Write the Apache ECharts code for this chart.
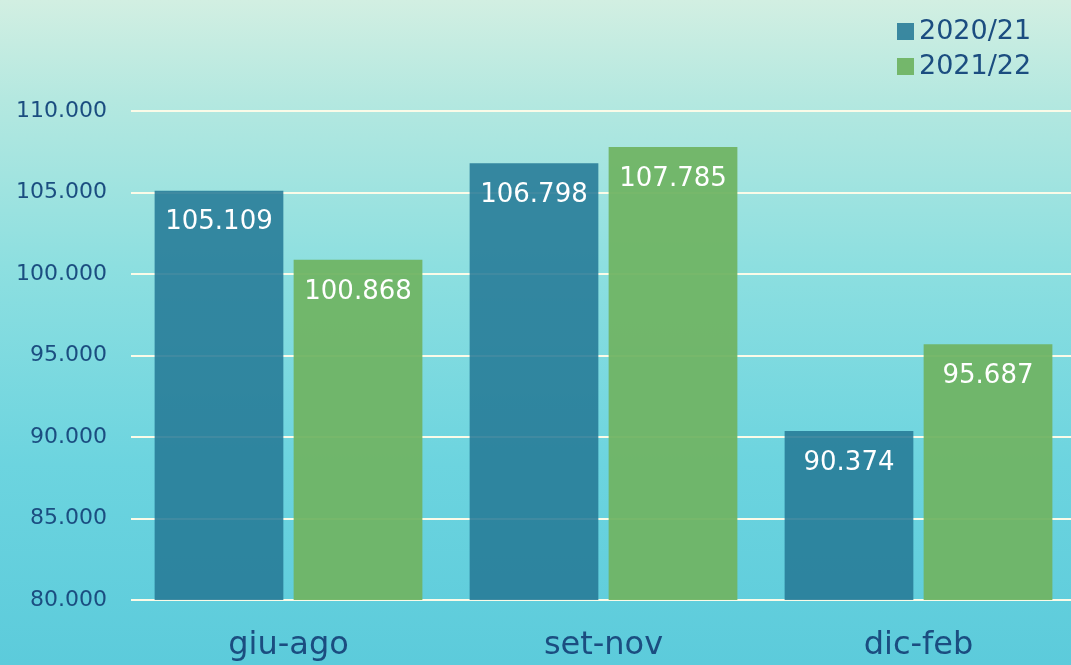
<!DOCTYPE html>
<html>
<head>
<meta charset="utf-8">
<script src="https://cdn.jsdelivr.net/npm/echarts@6/dist/echarts.min.js"></script>
<style>
  html, body { margin: 0; padding: 0; overflow: hidden; }
  #chart {
    width: 1076px; height: 665px;
    background: linear-gradient(180deg, #d2efe2 0%, #b4e8e0 15%, #8ddfe0 40%, #6cd4df 70%, #5ccbdb 100%);
  }
</style>
</head>
<body>
<div id="chart"></div>
<script>
const categories = ['giu-ago', 'set-nov', 'dic-feb'];
const seriesNames = ['2020/21', '2021/22'];
const values2021 = [105109, 106798, 90374];
const values2122 = [100868, 107785, 95687];

// numero con separatore delle migliaia "."
function fmt(v) {
    return String(Math.round(v)).replace(/\B(?=(\d{3})+(?!\d))/g, '.');
}

const chart = echarts.init(document.getElementById('chart'));
const font = 'DejaVu Sans';
const labelStyle = {
    show: true,
    position: 'insideTop',
    distance: 19,
    color: '#ffffff',
    fontFamily: font,
    fontSize: 26,
    formatter: p => fmt(p.value)
};

chart.setOption({
    textStyle: { fontFamily: font },
    legend: {
        orient: 'vertical',
        left: 892,
        top: 13,
        itemWidth: 17,
        itemHeight: 17,
        itemGap: 8,
        icon: 'rect',
        textStyle: { color: '#1b4d80', fontSize: 27, fontFamily: font },
        data: seriesNames
    },
    grid: { left: 131, top: 111, right: 0, bottom: 65 },
    xAxis: {
        type: 'category',
        data: categories,
        axisLine: { show: false },
        axisTick: { show: false },
        axisLabel: { color: '#1b4d80', fontSize: 32, margin: 30, fontFamily: font }
    },
    yAxis: {
        type: 'value',
        min: 80000,
        max: 110000,
        interval: 5000,
        axisLabel: {
            color: '#1b4d80', fontSize: 22, margin: 24, fontFamily: font,
            formatter: v => fmt(v)
        },
        splitLine: { lineStyle: { color: '#fbfbe8', width: 2 } }
    },
    series: [{
        name: seriesNames[0],
        type: 'bar',
        data: values2021,
        barGap: '8%',
        barCategoryGap: '15%',
        itemStyle: { color: 'rgba(38,122,150,0.88)' },
        label: labelStyle
    }, {
        name: seriesNames[1],
        type: 'bar',
        data: values2122,
        itemStyle: { color: 'rgba(112,180,100,0.95)' },
        label: labelStyle
    }]
});
</script>
</body>
</html>
